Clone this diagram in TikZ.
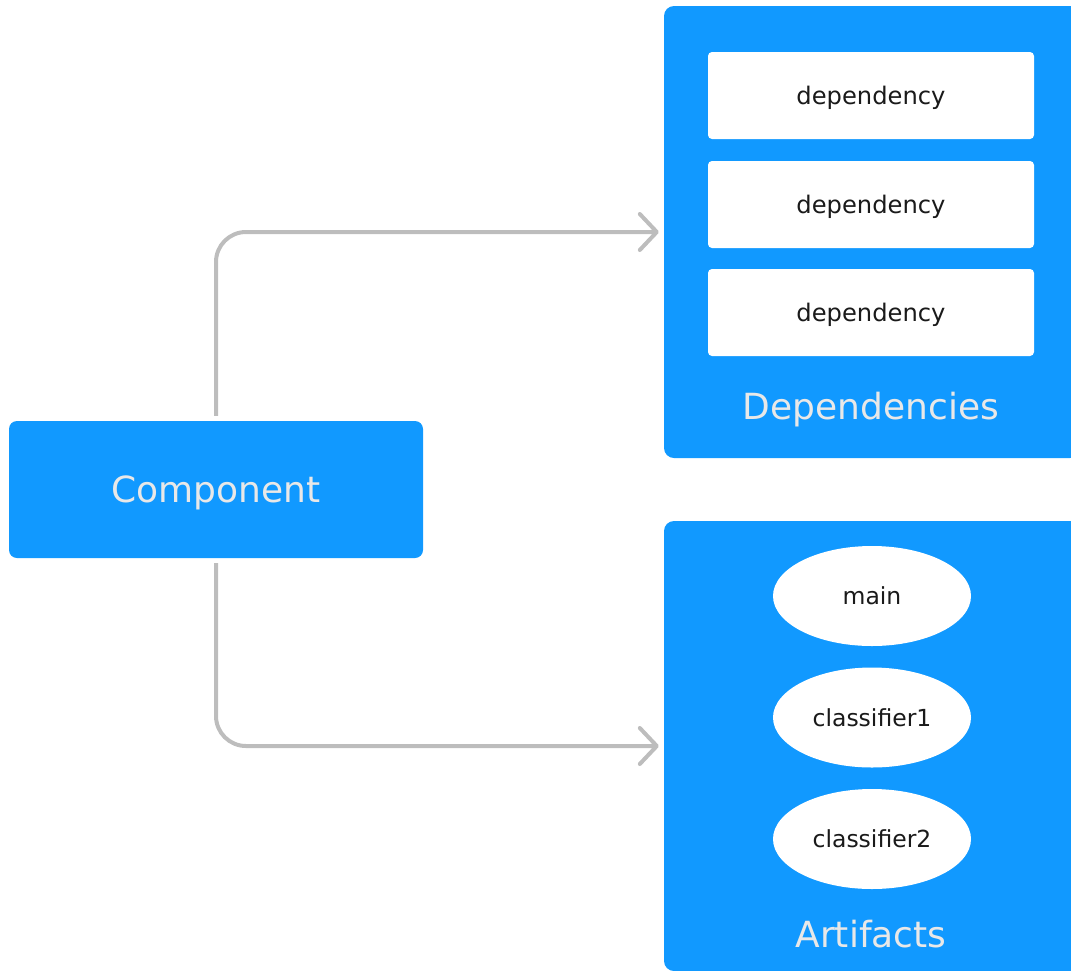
\documentclass[tikz,border=0pt]{standalone}
\usepackage{fontspec}
\setmainfont{DejaVu Sans}
\usetikzlibrary{arrows.meta,shapes.geometric}
\definecolor{blueF}{HTML}{1199FF}
\definecolor{connG}{HTML}{BDBDBD}
\definecolor{titleT}{HTML}{E8E8E8}
\definecolor{darkT}{HTML}{1A1A1A}
\tikzset{
  bigbox/.style={fill=blueF, draw=none, rounded corners=10pt, inner sep=0pt},
  compbox/.style={fill=blueF, draw=none, rounded corners=8pt, inner sep=0pt,
    minimum width=414pt, minimum height=137pt, text=titleT, text depth=0pt,
    font=\fontsize{36}{44}\selectfont},
  depbox/.style={fill=white, draw=none, rounded corners=4pt, inner sep=0pt,
    minimum width=326pt, minimum height=87pt, text=darkT, text depth=0pt,
    font=\fontsize{24.2}{30}\selectfont},
  artell/.style={ellipse, fill=white, draw=none, inner sep=0pt,
    minimum width=198pt, minimum height=100pt, text=darkT, text depth=0pt,
    font=\fontsize{23.5}{30}\selectfont},
  titlelab/.style={text=titleT, font=\fontsize{36}{44}\selectfont, anchor=base, inner sep=0pt},
  conn/.style={draw=connG, line width=4pt, rounded corners=30pt,
    -{Straight Barb[length=17pt, width=36pt, line width=4pt, round]},
    shorten <=5pt, shorten >=5pt}
}
\begin{document}
\begin{tikzpicture}[x=1pt,y=-1pt]
\useasboundingbox (0,0) rectangle (1071,970);
% groups
\node[bigbox, minimum width=416pt, minimum height=452pt] (deps) at (872,232) {};
\node[bigbox, minimum width=416pt, minimum height=450pt] (arts) at (872,746) {};
% component
\node[compbox] (comp) at (216,489.5) {Component};
% dependencies
\node[depbox] (d1) at (871,95.5) {dependency};
\node[depbox] (d2) at (871,204.5) {dependency};
\node[depbox] (d3) at (871,312.5) {dependency};
\node[titlelab] (deplab) at (871,419) {Dependencies};
% artifacts
\node[artell] (a1) at (872,596) {main};
\node[artell] (a2) at (872,717.5) {classifier1};
\node[artell] (a3) at (872,839) {classifier2};
\node[titlelab] (artlab) at (871,947) {Artifacts};
% connectors
\draw[conn] (comp.north) |- (deps.west);
\draw[conn] (comp.south) |- (arts.west);
\end{tikzpicture}
\end{document}
